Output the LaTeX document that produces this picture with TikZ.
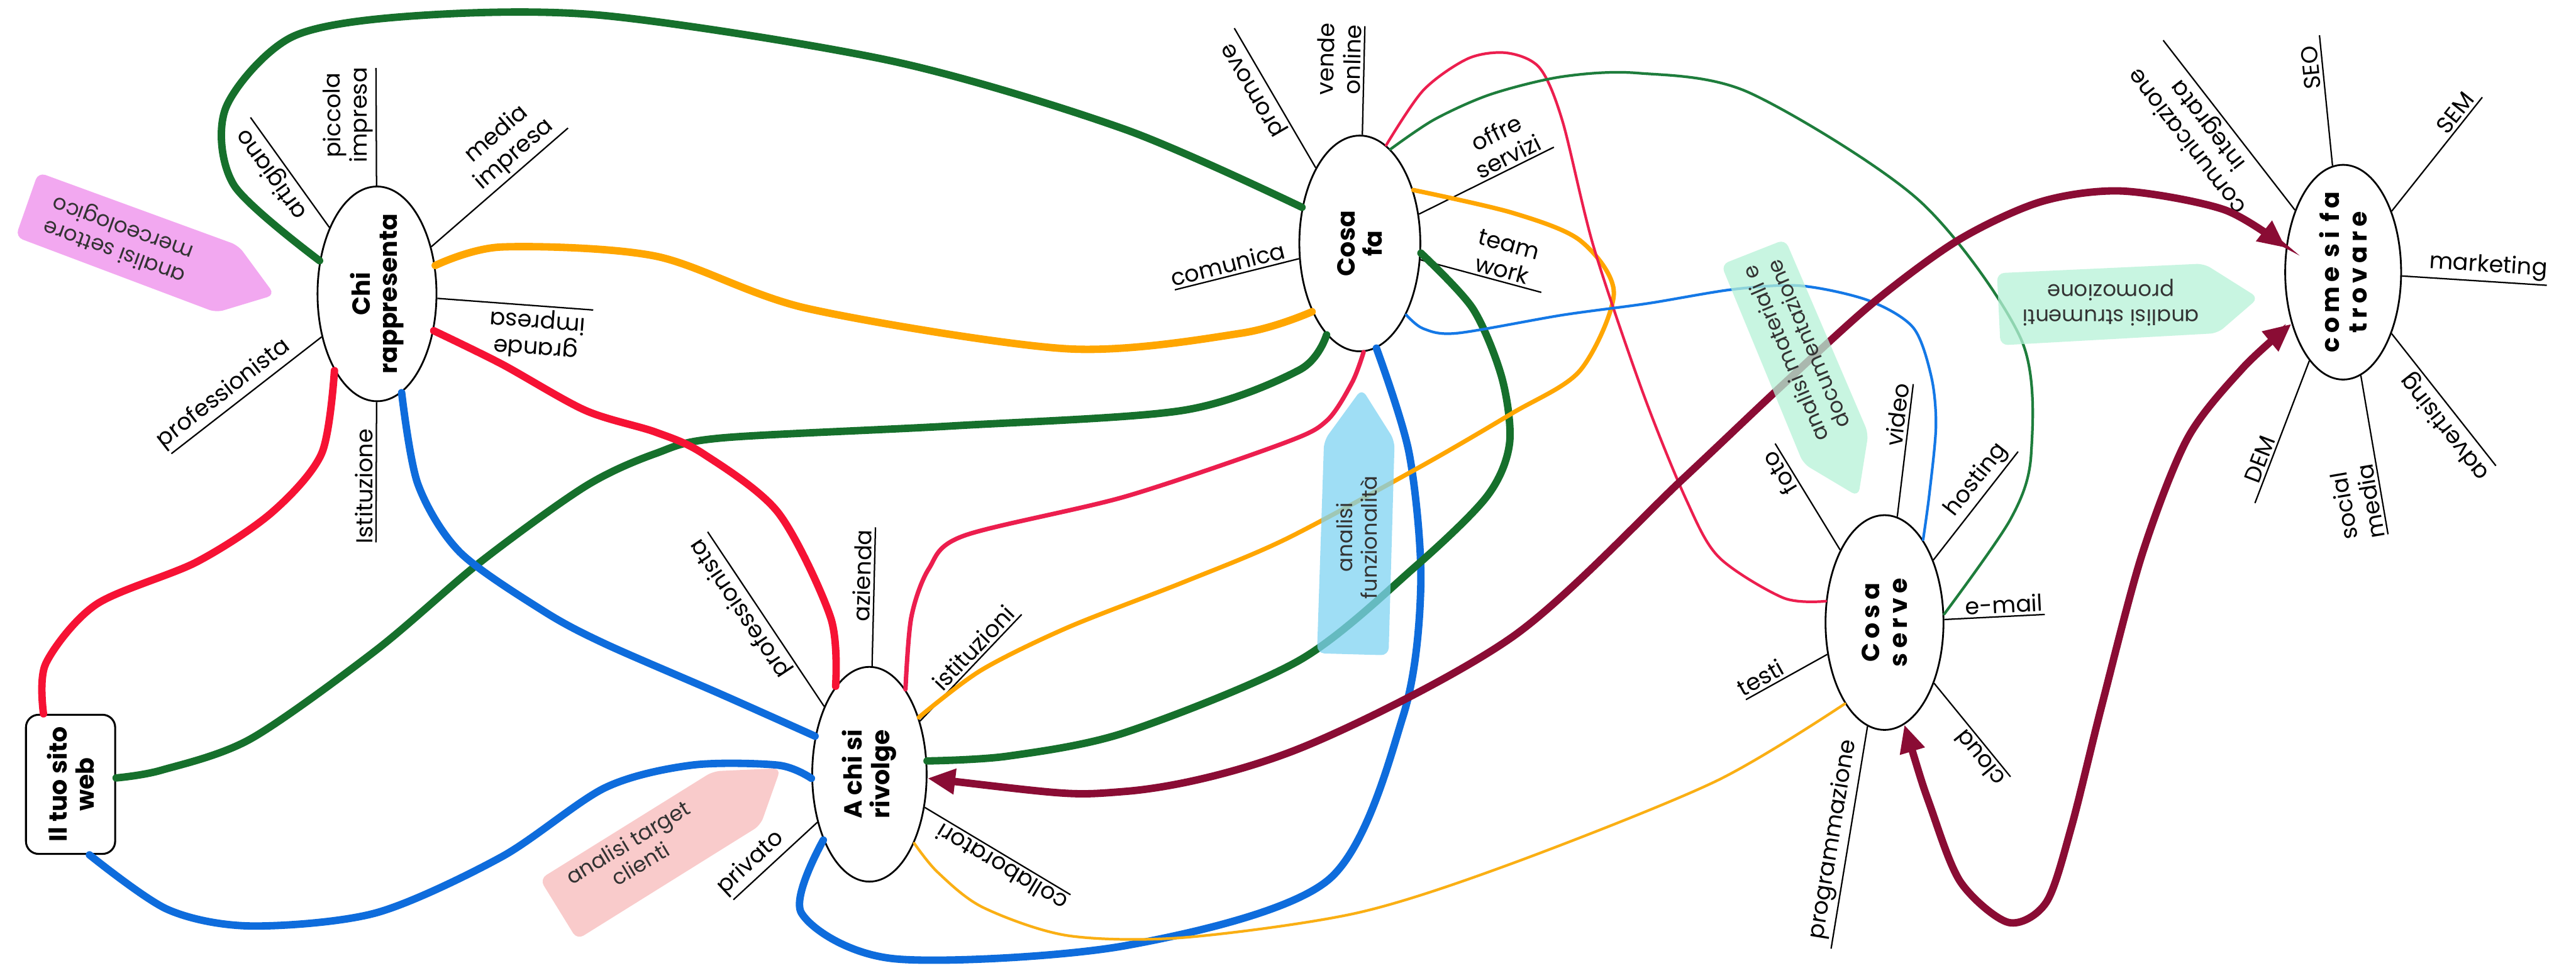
\documentclass[tikz,border=0pt]{standalone}
\usepackage{fontspec}
\setmainfont{Poppins}
\newfontfamily\spacedfont{Poppins}[LetterSpace=18]
\usetikzlibrary{shapes.geometric,arrows.meta,positioning}

\definecolor{mapgreen}{RGB}{22,112,44}
\definecolor{mapred}{RGB}{246,18,52}
\definecolor{maporange}{RGB}{255,166,0}
\definecolor{mapblue}{RGB}{14,108,220}
\definecolor{mapmaroon}{RGB}{138,12,52}
\definecolor{finered}{RGB}{236,30,78}
\definecolor{finegreen}{RGB}{30,125,60}
\definecolor{fineblue}{RGB}{20,120,230}
\definecolor{fineorange}{RGB}{250,175,20}
\definecolor{notepink}{RGB}{238,139,235}
\definecolor{notesalmon}{RGB}{247,186,186}
\definecolor{noteblue}{RGB}{128,211,242}
\definecolor{notemint}{RGB}{182,242,215}

\begin{document}
\begin{tikzpicture}[
    % hubs are turned upright: anchor angles are measured along the text
    hub/.style={draw, ellipse, rotate=90, fill=white, line width=1pt, align=center, inner xsep=-4mm, inner ysep=0pt, font=\bfseries\fontsize{14}{15.5}\selectfont},
    site/.style={draw, rotate=90, rounded corners=2.5mm, fill=white, line width=1.1pt, align=center, minimum width=2.76cm, minimum height=1.77cm, inner sep=0pt, font=\bfseries\fontsize{14}{15.5}\selectfont},
    spoke/.style={line width=0.8pt},
    lab/.style={sloped, above, allow upside down, align=center, inner sep=1.5pt, font=\fontsize{13}{15}\selectfont},
    linkfat/.style={line width=4.2pt, line cap=round},
    linkmid/.style={line width=2.5pt, line cap=round},
    linkfine/.style={line width=1.5pt, line cap=round},
    twoway/.style={<->, >={Triangle[length=5.5mm,width=4.8mm]}},
    note/.style={rounded corners=1.5mm, fill opacity=.75},
    notetext/.style={align=center, font=\fontsize{12}{14}\selectfont, text=black!80},
]
\path[use as bounding box, fill=white] (0,0) rectangle (51.11,-19.20);

% Hubs
\node[hub, minimum width=4.26cm, minimum height=2.36cm] (cr) at (7.48,-5.83) {Chi\\rappresenta};
\node[hub, minimum width=4.28cm, minimum height=2.40cm] (cf) at (26.98,-4.83) {Cosa\\fa};
\node[hub, minimum width=4.26cm, minimum height=2.30cm] (ct) at (46.49,-5.40) {\spacedfont come si fa\\\spacedfont trovare};
\node[hub, minimum width=4.26cm, minimum height=2.34cm] (cs) at (37.39,-12.35) {\spacedfont Cosa\\\spacedfont serve};
\node[hub, minimum width=4.26cm, minimum height=2.27cm] (ar) at (17.25,-15.36) {A chi si\\rivolge};
\node[site] (web) at (1.40,-15.56) {Il tuo sito\\web};

% Branch ends
\coordinate (crA) at (4.97,-2.33);
\coordinate (crB) at (7.46,-1.35);
\coordinate (crC) at (11.27,-2.54);
\coordinate (crD) at (11.77,-6.15);
\coordinate (crE) at (3.40,-9.00);
\coordinate (crF) at (7.46,-10.76);
\coordinate (cfA) at (24.49,-0.56);
\coordinate (cfB) at (27.08,-0.52);
\coordinate (cfC) at (30.83,-2.92);
\coordinate (cfD) at (30.58,-5.80);
\coordinate (cfE) at (23.31,-5.75);
\coordinate (ctA) at (42.92,-0.80);
\coordinate (ctB) at (46.02,-0.70);
\coordinate (ctC) at (49.25,-1.93);
\coordinate (ctD) at (50.53,-5.66);
\coordinate (ctE) at (49.52,-9.24);
\coordinate (ctF) at (47.38,-10.60);
\coordinate (ctG) at (44.74,-9.98);
\coordinate (csA) at (35.22,-8.80);
\coordinate (csB) at (37.96,-7.62);
\coordinate (csC) at (40.04,-8.96);
\coordinate (csD) at (40.57,-12.19);
\coordinate (csE) at (39.89,-15.41);
\coordinate (csF) at (34.64,-13.88);
\coordinate (csG) at (36.33,-18.82);
\coordinate (arA) at (14.04,-10.55);
\coordinate (arB) at (17.37,-10.46);
\coordinate (arC) at (20.27,-12.19);
\coordinate (arD) at (21.24,-17.75);
\coordinate (arE) at (14.55,-17.85);

% Chi rappresenta
\draw[spoke] (cr) -- (crA) node[lab, pos=.57] {artigiano};
\draw[spoke] (cr) -- (crB) node[lab, pos=.6] {piccola\\impresa};
\draw[spoke] (cr) -- (crC) node[lab, pos=.68] {media\\impresa};
\draw[spoke] (crD) -- (cr) node[lab, pos=.35] {grande\\impresa};
\draw[spoke] (crE) -- (cr) node[lab, pos=.41] {professionista};
\draw[spoke] (crF) -- (cr) node[lab, pos=.4] {Istituzione};

% Cosa fa
\draw[spoke] (cf) -- (cfA) node[lab, pos=.61] {promove};
\draw[spoke] (cf) -- (cfB) node[lab, pos=.69] {vende\\online};
\draw[spoke] (cf) -- (cfC) node[lab, pos=.7] {offre\\servizi};
\draw[spoke] (cf) -- (cfD) node[lab, pos=.65] {team\\work};
\draw[spoke] (cfE) -- (cf) node[lab, pos=.45] {comunica};

% Come si fa trovare
\draw[spoke] (ct) -- (ctA) node[lab, pos=.56] {comunicazione\\integrata};
\draw[spoke] (ct) -- (ctB) node[lab, pos=.76] {SEO};
\draw[spoke] (ct) -- (ctC) node[lab, pos=.8] {SEM};
\draw[spoke] (ct) -- (ctD) node[lab, pos=.59] {marketing};
\draw[spoke] (ctE) -- (ct) node[lab, pos=.37] {advertising};
\draw[spoke] (ctF) -- (ct) node[lab, pos=.22] {social\\media};
\draw[spoke] (ctG) -- (ct) node[lab, pos=.28] {DEM};

% Cosa serve
\draw[spoke] (cs) -- (csA) node[lab, pos=.78] {foto};
\draw[spoke] (cs) -- (csB) node[lab, pos=.76] {video};
\draw[spoke] (cs) -- (csC) node[lab, pos=.65] {hosting};
\draw[spoke] (cs) -- (csD) node[lab, pos=.6] {e-mail};
\draw[spoke] (csE) -- (cs) node[lab, pos=.28] {cloud};
\draw[spoke] (csF) -- (cs) node[lab, pos=.25] {testi};
\draw[spoke] (csG) -- (cs) node[lab, pos=.48] {programmazione};

% A chi si rivolge
\draw[spoke] (ar) -- (arA) node[lab, pos=.61] {professionista};
\draw[spoke] (ar) -- (arB) node[lab, pos=.65] {azienda};
\draw[spoke] (ar) -- (arC) node[lab, pos=.61] {istituzioni};
\draw[spoke] (arD) -- (ar) node[lab, pos=.43] {collaboratori};
\draw[spoke] (arE) -- (ar) node[lab, pos=.33] {privato};

% Links from the site
\draw[linkfat, mapred] plot[smooth] coordinates {(web.21) (0.91,-13.16) (1.91,-11.99) (3.90,-11.15) (5.39,-10.17) (6.38,-9.00) (cr.151)};
\draw[linkfat, mapgreen] plot[smooth] coordinates {(web.-82) (3.20,-15.28) (4.97,-14.66) (7.46,-12.90) (9.53,-11.15) (11.61,-9.65) (13.00,-9.00) (14.30,-8.69) (18.89,-8.45) (23.48,-8.14) (25.78,-7.34) (cf.160)};
\draw[linkfat, mapblue] plot[smooth] coordinates {(web.-165) (3.32,-18.04) (4.97,-18.37) (7.46,-18.11) (9.95,-17.00) (12.00,-15.63) (13.72,-15.18) (15.44,-15.18) (ar.94)};

% Links from Chi rappresenta
\draw[linkfat, mapgreen] plot[smooth] coordinates {(cr.60) (4.64,-3.67) (4.48,-2.14) (5.80,-0.73) (8.29,-0.31) (12.00,-0.31) (17.74,-1.22) (22.33,-2.57) (cf.58)};
\draw[linkfat, maporange] plot[smooth] coordinates {(cr.-64) (9.95,-4.90) (13.00,-5.08) (16.02,-6.12) (21.18,-6.92) (24.63,-6.61) (cf.145)};
\draw[linkfat, mapred] plot[smooth] coordinates {(cr.-123) (9.95,-7.22) (11.61,-8.14) (13.00,-8.57) (13.95,-9.00) (15.44,-10.17) (16.48,-12.25) (ar.21)};
\draw[linkfat, mapblue] plot[smooth] coordinates {(cr.-166) (8.29,-9.60) (9.12,-10.95) (10.78,-12.12) (12.00,-12.77) (14.30,-13.77) (ar.55)};

% Links from Cosa fa
\draw[linkfat, mapblue] plot[smooth] coordinates {(cf.-171) (27.96,-9.00) (28.19,-11.60) (27.84,-14.20) (26.35,-17.46) (22.33,-18.76) (17.74,-19.02) (15.90,-18.11) (ar.145)};
\draw[linkfat, mapgreen] plot[smooth] coordinates {(cf.-99) (29.22,-6.12) (29.80,-7.50) (29.95,-8.80) (29.50,-9.85) (28.07,-11.25) (25.78,-13.10) (22.33,-14.53) (20.00,-15.00) (ar.-77)};
\draw[linkmid, maporange] plot[smooth] coordinates {(cf.-45) (30.00,-4.22) (31.35,-4.77) (32.02,-5.81) (31.35,-7.35) (30.00,-8.20) (28.16,-9.27) (25.50,-10.70) (23.48,-11.55) (21.18,-12.45) (19.46,-13.30) (ar.-41)};
\draw[linkmid, finered] plot[smooth] coordinates {(cf.-178) (26.83,-7.58) (26.33,-8.34) (25.50,-8.78) (22.33,-9.85) (19.12,-10.63) (18.43,-11.28) (18.08,-12.25) (ar.-23)};
\draw[linkfine, finered] plot[smooth] coordinates {(cf.-15) (28.24,-1.79) (29.13,-1.16) (29.90,-1.05) (30.55,-1.35) (31.00,-2.40) (31.62,-4.90) (32.60,-7.80) (33.45,-9.90) (34.10,-11.05) (35.38,-11.86) (cs.70)};
\draw[linkfine, finegreen] plot[smooth] coordinates {(cf.-18) (28.46,-2.37) (29.58,-1.87) (31.00,-1.52) (32.50,-1.45) (34.71,-1.84) (38.08,-3.98) (40.10,-6.73) (40.30,-9.00) (39.89,-10.30) (cs.-82)};
\draw[linkfine, fineblue] plot[smooth] coordinates {(cf.-147) (28.24,-6.52) (28.91,-6.61) (31.00,-6.25) (32.69,-6.02) (34.39,-5.74) (35.73,-5.67) (37.07,-5.96) (37.96,-6.50) (38.32,-7.48) (38.41,-8.46) (38.28,-9.80) (cs.-25)};

% Links from Cosa serve
\draw[linkfine, fineorange] plot[smooth] coordinates {(cs.154) (34.04,-15.50) (30.00,-17.13) (26.93,-18.11) (23.48,-18.60) (21.18,-18.56) (19.50,-18.00) (18.60,-17.30) (ar.-147)};

% Two-way links to Come si fa trovare
\draw[linkfat, mapmaroon, twoway] plot[smooth] coordinates {(ar.-94) (22.33,-15.70) (25.78,-14.85) (30.00,-12.64) (33.37,-9.52) (35.29,-7.71) (37.16,-6.01) (38.86,-4.76) (40.50,-4.00) (42.11,-3.79) (44.13,-4.16) (ct.67)};
\draw[linkfat, mapmaroon, twoway] plot[smooth] coordinates {(cs.-169) (38.30,-16.00) (38.90,-17.50) (39.85,-18.30) (40.60,-17.90) (41.10,-16.40) (41.70,-14.00) (42.50,-11.00) (43.40,-8.70) (44.50,-7.30) (ct.135)};

% Notes
\fill[notepink, note] (0.76,-3.42) -- (4.73,-4.87) -- (5.45,-5.85) -- (4.29,-6.20) -- (0.31,-4.70) -- cycle;
\node[notetext, rotate=160] (nSet) at (2.36,-4.73) {analisi settore\\merceologico};
\fill[notesalmon, note] (10.71,-17.44) -- (14.15,-15.30) -- (15.49,-15.24) -- (15.09,-16.37) -- (11.45,-18.64) -- cycle;
\node[notetext, rotate=31] (nTarget) at (12.58,-16.92) {analisi target\\clienti};
\fill[noteblue, note] (26.13,-12.96) -- (26.27,-8.74) -- (27.02,-7.71) -- (27.67,-8.74) -- (27.55,-13.00) -- cycle;
\node[notetext, rotate=90] (nFunz) at (26.92,-10.66) {analisi\\funzionalità};
\fill[notemint, note] (34.15,-5.25) -- (35.42,-4.75) -- (37.07,-8.60) -- (36.87,-9.85) -- (35.78,-9.20) -- cycle;
\node[notetext, rotate=113] (nMat) at (35.64,-6.92) {analisi materiali e\\documentazione};
\fill[notemint, note] (39.62,-5.42) -- (43.73,-5.23) -- (44.81,-5.91) -- (44.00,-6.61) -- (39.69,-6.85) -- cycle;
\node[notetext, rotate=180] (nProm) at (41.88,-6.00) {analisi strumenti\\promozione};
\end{tikzpicture}
\end{document}
